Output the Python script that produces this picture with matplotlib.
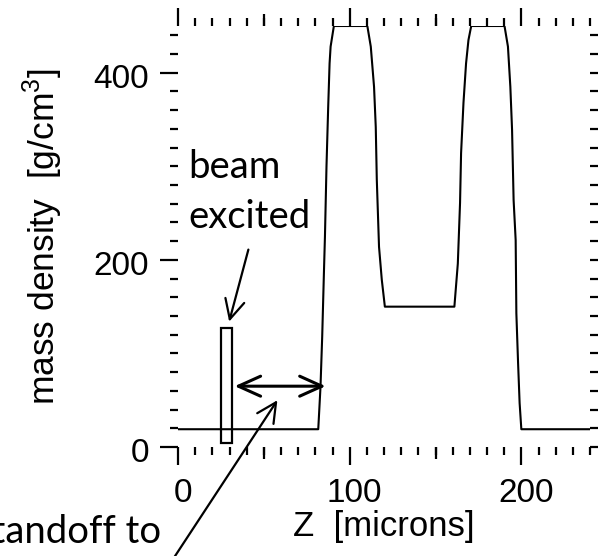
import numpy as np
import matplotlib
matplotlib.use('Agg')
import matplotlib.pyplot as plt
from matplotlib.patches import Rectangle
from matplotlib.transforms import ScaledTranslation

plt.rcParams['font.family'] = ['Liberation Sans', 'DejaVu Sans']
plt.rcParams['mathtext.fontset'] = 'custom'
plt.rcParams['mathtext.rm'] = 'Liberation Sans'

# density profile along z: two dense shells with a lower density layer between
z_um = [0, 81.7, 83.0, 84.0, 85.0, 85.6, 86.5, 87.5, 88.3, 88.9, 90.8,
        110.3, 112.3, 114.2, 115.2, 115.8, 117.1, 118.7, 120.5,
        161.0, 163.0, 164.3, 164.9, 166.3, 167.8, 169.2, 170.8,
        190.2, 192.2, 193.6, 194.6, 195.5, 196.7, 197.1, 198.1, 199.0, 200.0, 240]
rho = [19, 19, 64, 118, 186, 225, 300, 364, 410, 428, 450,
       450, 428, 385, 342, 286, 214, 179, 150,
       150, 196, 261, 314, 368, 410, 435, 450,
       450, 428, 385, 339, 264, 221, 143, 90, 47, 19, 19]

# beam excited slab and standoff distance
beam_z = [25.0, 31.6]
beam_rho = [4, 127]
standoff_z = [33.0, 86.0]
standoff_rho = 65

x_major = [0, 100, 200]
x_mid = [50, 150]
y_major = [0, 200, 400]

fig = plt.figure(figsize=(5.98, 5.56), dpi=100)
ax = fig.add_axes([178 / 598, 1 - 447 / 556, 412 / 598, 421 / 556])

ax.plot(z_um, rho, color='k', lw=1.5)
ax.set_xlim(0, 240)
ax.set_ylim(0, 450)

for s in ax.spines.values():
    s.set_visible(False)

ax.set_xticks(x_major)
ax.set_xticks(np.arange(0, 241, 10), minor=True)
ax.set_yticks(y_major)
ax.set_yticks(np.arange(0, 451, 20), minor=True)
ax.tick_params(which='both', direction='out', top=True, right=True, width=1.6, colors='k')
ax.tick_params(which='major', length=13, labelsize=24)
ax.tick_params(which='minor', length=5.8)
ax.tick_params(axis='x', which='major', pad=9.5)
ax.tick_params(axis='y', which='major', pad=8)

# medium ticks at 50 and 150
for loc in ('bottom', 'top'):
    sec = ax.secondary_xaxis(loc)
    sec.set_xticks(x_mid)
    sec.set_xticklabels(['', ''])
    sec.tick_params(direction='out', length=8.6, width=1.6)
    for s in sec.spines.values():
        s.set_visible(False)

dx = ScaledTranslation(5 / 100, 0, fig.dpi_scale_trans)
for lab in ax.get_xticklabels():
    lab.set_transform(lab.get_transform() + dx)
dy = ScaledTranslation(0, -3 / 100, fig.dpi_scale_trans)
for lab in ax.get_yticklabels():
    lab.set_transform(lab.get_transform() + dy)

ax.set_xlabel('Z  [microns]', fontsize=25)
ax.xaxis.set_label_coords(0.5, -0.15)
ax.set_ylabel(r'mass density  [g/cm$^3$]', fontsize=25.5)
ax.yaxis.set_label_coords(-0.275, 0.5)

# beam excited slab
ax.add_patch(Rectangle((beam_z[0], beam_rho[0]), beam_z[1] - beam_z[0],
                       beam_rho[1] - beam_rho[0], fill=False, ec='k', lw=1.6,
                       clip_on=False))

ax.annotate('', xy=(standoff_z[1], standoff_rho), xytext=(standoff_z[0], standoff_rho),
            arrowprops=dict(arrowstyle='<->,head_length=1.0,head_width=0.45',
                            lw=2.2, color='k', mutation_scale=16,
                            shrinkA=0, shrinkB=0))

ax.annotate('', xy=(29.8, 134), xytext=(41, 211), annotation_clip=False,
            arrowprops=dict(arrowstyle='->,head_length=1.0,head_width=0.5',
                            lw=1.6, color='k', mutation_scale=14,
                            shrinkA=0, shrinkB=0))

ax.annotate('', xy=(57.9, 50), xytext=(-18.7, -164), annotation_clip=False,
            arrowprops=dict(arrowstyle='->,head_length=1.0,head_width=0.5',
                            lw=1.6, color='k', mutation_scale=14,
                            shrinkA=0, shrinkB=0))

ax.text(5.8, 288, 'beam', family='Lato', fontsize=27.5, va='baseline', ha='left')
ax.text(5.8, 234, 'excited', family='Lato', fontsize=27.5, va='baseline', ha='left')
fig.text(161 / 598, 1 - 543 / 556, 'standoff to', family='Lato', fontsize=27.5,
         va='baseline', ha='right')

fig.savefig('out.png', dpi=100)
